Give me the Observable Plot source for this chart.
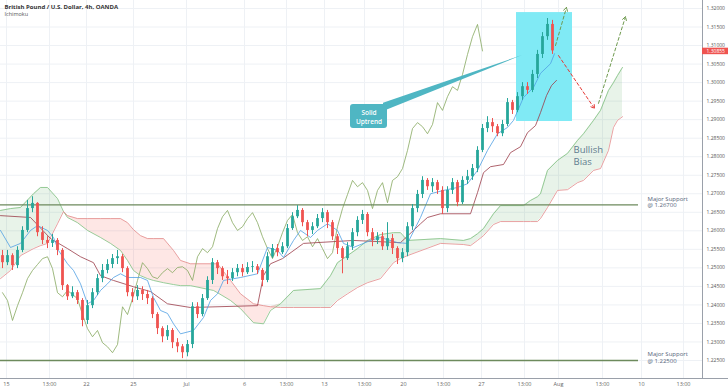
<!DOCTYPE html>
<html>
<head>
<meta charset="utf-8">
<script src="https://cdn.jsdelivr.net/npm/d3@7"></script>
<script src="https://cdn.jsdelivr.net/npm/@observablehq/plot@0.6"></script>
<style>
  html, body { margin: 0; padding: 0; background: #ffffff; }
  #chart { width: 728px; height: 391px; overflow: hidden; }
</style>
</head>
<body>
<div id="chart"></div>
<script>
// ---------- DATA (GBP/USD, OANDA; one bar = 8h) ----------
const firstOpen = 1.2533;
const candleClose = [
  1.2514,1.2533,1.2506,1.2547,1.2601,1.2660,1.2674,1.2595,1.2574,1.2566,
  1.2574,1.2547,1.2452,1.2422,1.2433,1.2412,1.2358,1.2398,1.2433,1.2471,
  1.2493,1.2509,1.2525,1.2530,1.2498,1.2433,1.2422,1.2439,1.2428,1.2417,
  1.2374,1.2336,1.2314,1.2331,1.2298,1.2287,1.2271,1.2293,1.2395,1.2374,
  1.2417,1.2466,1.2514,1.2498,1.2476,1.2471,1.2487,1.2498,1.2487,1.2501,
  1.2503,1.2493,1.2466,1.2530,1.2552,1.2541,1.2557,1.2606,1.2638,1.2655,
  1.2622,1.2601,1.2611,1.2633,1.2649,1.2622,1.2584,1.2552,1.2525,1.2557,
  1.2595,1.2628,1.2644,1.2595,1.2574,1.2584,1.2557,1.2579,1.2552,1.2525,
  1.2541,1.2611,1.2660,1.2698,1.2736,1.2719,1.2730,1.2709,1.2660,1.2709,
  1.2730,1.2676,1.2736,1.2746,1.2768,1.2817,1.2876,1.2892,1.2881,1.2862,
  1.2887,1.2946,1.2925,1.2962,1.2989,1.2979,1.3022,1.3076,1.3124,1.3157,
  1.30855];
const candleHigh = [
  1.2547,1.2547,1.2538,1.2557,1.2611,1.2682,1.2692,1.2676,1.2611,1.2584,
  1.2590,1.2579,1.2552,1.2455,1.2449,1.2439,1.2417,1.2412,1.2444,1.2482,
  1.2509,1.2522,1.2536,1.2547,1.2536,1.2503,1.2444,1.2452,1.2449,1.2439,
  1.2422,1.2379,1.2341,1.2344,1.2336,1.2309,1.2293,1.2304,1.2406,1.2406,
  1.2428,1.2476,1.2525,1.2520,1.2503,1.2493,1.2498,1.2509,1.2509,1.2514,
  1.2517,1.2509,1.2498,1.2541,1.2563,1.2563,1.2568,1.2617,1.2649,1.2668,
  1.2660,1.2628,1.2622,1.2644,1.2660,1.2655,1.2628,1.2590,1.2557,1.2568,
  1.2606,1.2638,1.2655,1.2649,1.2606,1.2595,1.2595,1.2622,1.2590,1.2557,
  1.2552,1.2622,1.2671,1.2709,1.2746,1.2741,1.2741,1.2736,1.2719,1.2719,
  1.2741,1.2736,1.2746,1.2763,1.2779,1.2827,1.2887,1.2908,1.2903,1.2887,
  1.2898,1.2957,1.2952,1.2973,1.3000,1.3000,1.3033,1.3087,1.3135,1.3173,
  1.3168];
const candleLow = [
  1.2498,1.2506,1.2493,1.2498,1.2541,1.2595,1.2649,1.2584,1.2563,1.2552,
  1.2555,1.2533,1.2439,1.2412,1.2417,1.2401,1.2341,1.2347,1.2390,1.2425,
  1.2460,1.2484,1.2498,1.2509,1.2487,1.2422,1.2406,1.2412,1.2412,1.2401,
  1.2363,1.2320,1.2298,1.2304,1.2282,1.2271,1.2255,1.2260,1.2282,1.2363,
  1.2368,1.2412,1.2455,1.2482,1.2466,1.2455,1.2463,1.2476,1.2476,1.2482,
  1.2487,1.2482,1.2449,1.2460,1.2525,1.2530,1.2536,1.2552,1.2601,1.2633,
  1.2611,1.2584,1.2590,1.2606,1.2622,1.2606,1.2574,1.2536,1.2484,1.2520,
  1.2547,1.2584,1.2617,1.2584,1.2557,1.2563,1.2547,1.2547,1.2536,1.2509,
  1.2514,1.2530,1.2601,1.2649,1.2687,1.2709,1.2703,1.2698,1.2644,1.2649,
  1.2698,1.2665,1.2671,1.2725,1.2736,1.2757,1.2811,1.2865,1.2865,1.2854,
  1.2854,1.2881,1.2914,1.2919,1.2952,1.2968,1.2973,1.3011,1.3065,1.3114,
  1.3076];

// Ichimoku lines (bar position, price)
const tenkanBar = [-0.4,1.6,3.6,5.6,7,9,10.2,11.2,13,14.2,15.6,17,18.2,19.6,21,22.2,23.6,25,27.6,29,30.2,31.6,33,34.2,35.6,38.2,40.2,41.6,43,44.2,47.6,51,53,55,56.2,58.2,59.6,61.6,63,65,67,68.2,70.2,73.6,75.6,79,81,83.6,85.6,88.2,91,93,95,97,99,101,102.2,104.2,106.2,107.6,109.6,110.4];
const tenkanVal = [1.2601,1.2555,1.2566,1.2601,1.2614,1.2601,1.2582,1.2547,1.2511,1.2493,1.2457,1.2403,1.2412,1.2439,1.2457,1.2474,1.2484,1.2474,1.2474,1.2466,1.2420,1.2385,1.2377,1.2349,1.2322,1.2331,1.2366,1.2412,1.2430,1.2466,1.2474,1.2484,1.2555,1.2547,1.2528,1.2574,1.2601,1.2582,1.2601,1.2619,1.2601,1.2566,1.2555,1.2574,1.2582,1.2568,1.2566,1.2636,1.2700,1.2709,1.2717,1.2727,1.2763,1.2817,1.2862,1.2879,1.2898,1.2960,1.2987,1.3025,1.3051,1.3078];
const kijunBar = [-0.4,5.6,9.6,13,15.6,18.2,19.6,22.2,26.2,29.6,33,37.6,51,52.2,53.6,56,60.2,70.2,79.6,83.6,85,87.6,93.6,95,96.2,97.6,100.2,101.6,103.6,105,106.6,107.6,108.8,109.8,110.8];
const kijunVal = [1.2641,1.2636,1.2579,1.2552,1.2530,1.2514,1.2479,1.2466,1.2449,1.2436,1.2403,1.2393,1.2398,1.2479,1.2511,1.2525,1.2566,1.2574,1.2568,1.2619,1.2636,1.2646,1.2646,1.2703,1.2757,1.2773,1.2779,1.2811,1.2827,1.2865,1.2884,1.2919,1.2965,1.2992,1.3006];
const cloudBar = [-0.4,1.6,3.6,6.2,7.6,9,11,12.2,13,15,17,19.6,21.6,23.6,25,26.2,27.6,29,30.2,32.2,34.2,35.6,37.6,42.2,43,45.6,47.6,50.2,52.2,53.6,55.6,58.2,63.6,65.6,67,69,71,73,75.6,78.2,79.6,81,87.6,92.2,93.6,95,96.2,98.2,99.6,104.2,105.6,107,107.6,109,111,113,115,116.2,118.2,119.6,121.2,122.2,123,124];
const senkouA = [1.2655,1.2660,1.2663,1.2700,1.2717,1.2717,1.2687,1.2652,1.2636,1.2622,1.2601,1.2582,1.2566,1.2547,1.2520,1.2493,1.2479,1.2471,1.2466,1.2460,1.2455,1.2452,1.2452,1.2439,1.2433,1.2412,1.2390,1.2352,1.2349,1.2385,1.2403,1.2439,1.2444,1.2479,1.2514,1.2533,1.2552,1.2574,1.2590,1.2595,1.2595,1.2574,1.2579,1.2574,1.2579,1.2592,1.2606,1.2646,1.2668,1.2668,1.2682,1.2692,1.2700,1.2763,1.2790,1.2809,1.2844,1.2862,1.2898,1.2925,1.2979,1.3000,1.3019,1.3041];
const senkouB = [1.2471,1.2493,1.2533,1.2552,1.2560,1.2566,1.2619,1.2652,1.2641,1.2633,1.2633,1.2633,1.2633,1.2633,1.2622,1.2603,1.2587,1.2579,1.2579,1.2579,1.2547,1.2520,1.2511,1.2511,1.2511,1.2466,1.2430,1.2403,1.2398,1.2395,1.2393,1.2393,1.2393,1.2393,1.2412,1.2430,1.2447,1.2460,1.2471,1.2514,1.2525,1.2533,1.2566,1.2563,1.2560,1.2574,1.2587,1.2617,1.2625,1.2625,1.2625,1.2625,1.2633,1.2663,1.2709,1.2711,1.2730,1.2736,1.2763,1.2768,1.2817,1.2879,1.2898,1.2908];
const chikouShift = 14; // lagging span: closes displaced 26 four-hour candles back

// Levels and annotations
const supportLevels = [1.267, 1.225];
const supportEndBar = 127.2;
const priceTicks = [1.225,1.23,1.235,1.24,1.245,1.25,1.255,1.26,1.265,1.27,1.275,1.28,1.285,1.29,1.295,1.30,1.305,1.31,1.315,1.32];
const xTickBars = [0.8,9.4,16.8,26.2,36.8,48.4,56.8,64.4,72.4,80.2,88.2,95.8,104.4,111.2,120,127.8,136.2];
const xTickLabels = ["15","13:00","22","25","Jul","6","13:00","13","13:00","20","13:00","27","13:00","Aug","13:00","10","13:00"];
const boxBars = [102.8, 114], boxPrices = [1.2895, 1.3189];
const calloutBars = [69.6, 77], calloutPrices = [1.2876, 1.2941];
const calloutLines = ["Solid", "Uptrend"], calloutLinePrices = [1.2918, 1.2895];
const wedgeBars = [76.2, 104], wedgeLow = [1.2922, 1.3073], wedgeHigh = [1.2944, 1.3073];
const greenArrows = [{x1: 110.6, y1: 1.3100, x2: 112.8, y2: 1.3203}, {x1: 119.2, y1: 1.2944, x2: 124.6, y2: 1.3178}];
const redArrows = [{x1: 111.2, y1: 1.3073, x2: 118.4, y2: 1.2930}];
const biasLines = ["Bullish", "Bias"], biasBar = 114.2, biasPrices = [1.2817, 1.2785];
const lastPrice = candleClose[candleClose.length - 1];

// ---------- build tables ----------
const candles = candleClose.map((c, i) => ({bar: i, open: i ? candleClose[i - 1] : firstOpen, close: c, high: candleHigh[i], low: candleLow[i]}));
const tenkan = tenkanBar.map((b, i) => ({bar: b, v: tenkanVal[i]}));
const kijun = kijunBar.map((b, i) => ({bar: b, v: kijunVal[i]}));
const cloud = cloudBar.map((b, i) => ({bar: b, spanA: senkouA[i], spanB: senkouB[i], top: Math.max(senkouA[i], senkouB[i])}));
const chikou = candleClose.map((c, i) => ({bar: i - chikouShift, v: c})).filter(d => d.bar >= 0);
const wedge = wedgeBars.map((b, i) => ({bar: b, lo: wedgeLow[i], hi: wedgeHigh[i]}));

const UP = "#26a69a", DOWN = "#ef5350";
const yDomain = [1.22014, 1.32216];
const xDomain = [-0.4, 140];
const font = "'Open Sans', 'Noto Sans', sans-serif";

const chart = Plot.plot({
  width: 728, height: 391,
  marginLeft: 0, marginRight: 26, marginTop: 0, marginBottom: 13,
  x: {domain: xDomain, axis: null},
  y: {domain: yDomain, axis: null},
  color: {type: "identity"},
  style: {fontFamily: font, background: "#ffffff", overflow: "visible"},
  marks: [
    // grid
    Plot.ruleY(priceTicks, {stroke: "#eef1f5", strokeWidth: 1}),
    Plot.ruleX(xTickBars, {stroke: "#eef1f5", strokeWidth: 1}),
    // cloud
    Plot.areaY(cloud, {x: "bar", y1: "spanB", y2: "top", fill: "#43a047", fillOpacity: 0.12}),
    Plot.areaY(cloud, {x: "bar", y1: "spanA", y2: "top", fill: "#f44336", fillOpacity: 0.13}),
    Plot.line(cloud, {x: "bar", y: "spanA", stroke: "#7fbf7f", strokeWidth: 0.8}),
    Plot.line(cloud, {x: "bar", y: "spanB", stroke: "#e28a8a", strokeWidth: 0.8}),
    // cyan highlight box
    Plot.rect([0], {x1: () => boxBars[0], x2: () => boxBars[1], y1: () => boxPrices[0], y2: () => boxPrices[1], fill: "#80eaf5"}),
    // other ichimoku lines
    Plot.line(chikou, {x: "bar", y: "v", stroke: "#86a860", strokeWidth: 0.8}),
    Plot.line(kijun, {x: "bar", y: "v", stroke: "#9b3b48", strokeWidth: 0.8}),
    Plot.line(tenkan, {x: "bar", y: "v", stroke: "#4f9fe3", strokeWidth: 0.8}),
    // support levels
    Plot.ruleY(supportLevels, {x1: xDomain[0], x2: supportEndBar, stroke: "#6d8a5c", strokeWidth: 1.4}),
    // candles
    Plot.ruleX(candles, {x: "bar", y1: "low", y2: "high", stroke: d => d.close >= d.open ? UP : DOWN, strokeWidth: 1}),
    Plot.ruleX(candles, {x: "bar", y1: "open", y2: "close", stroke: d => d.close >= d.open ? UP : DOWN, strokeWidth: 2.8}),
    // callout
    Plot.areaY(wedge, {x: "bar", y1: "lo", y2: "hi", fill: "#4fb6c3"}),
    Plot.rect([0], {x1: () => calloutBars[0], x2: () => calloutBars[1], y1: () => calloutPrices[0], y2: () => calloutPrices[1], fill: "#4fb6c3", rx: 3}),
    Plot.text(calloutLines, {x: (calloutBars[0] + calloutBars[1]) / 2, y: (d, i) => calloutLinePrices[i], text: d => d, fill: "#ffffff", fontSize: 6.5, fontWeight: 600}),
    // projection arrows
    Plot.arrow(greenArrows, {x1: "x1", y1: "y1", x2: "x2", y2: "y2", stroke: "#6f9a4f", strokeWidth: 1, strokeDasharray: "3,2.5", headLength: 6}),
    Plot.arrow(redArrows, {x1: "x1", y1: "y1", x2: "x2", y2: "y2", stroke: "#e53935", strokeWidth: 1, strokeDasharray: "3,2.5", headLength: 6}),
    // texts
    Plot.text(biasLines, {x: biasBar, y: (d, i) => biasPrices[i], text: d => d, textAnchor: "start", fill: "#5e7b8e", fontSize: 9.5, fontWeight: 500}),
    Plot.text(supportLevels, {x: supportEndBar + 1.8, y: d => d, text: d => `Major Support\n@ ${d.toFixed(5)}`, textAnchor: "start", lineHeight: 1.1, dy: -3, fill: "#55647a", fontSize: 6}),
    // frame / axes
    Plot.ruleX([xDomain[1]], {stroke: "#9aa0aa", strokeWidth: 1}),
    Plot.ruleY([yDomain[0]], {x1: xDomain[0], x2: xDomain[1] + 5.2, stroke: "#9aa0aa", strokeWidth: 1}),
    Plot.text(priceTicks, {y: d => d, text: d => d.toFixed(5), frameAnchor: "right", dx: 4, textAnchor: "start", fill: "#555", fontSize: 5}),
    Plot.text(xTickBars, {x: d => d, text: (d, i) => xTickLabels[i], frameAnchor: "bottom", dy: 7, fill: "#666", fontSize: 5.5}),
    Plot.ruleY([lastPrice], {x1: xDomain[1], x2: xDomain[1] + 5.2, stroke: "#ef5350", strokeWidth: 6.5}),
    Plot.text([lastPrice], {y: d => d, text: d => d.toFixed(5), frameAnchor: "right", dx: 4, dy: 0.5, textAnchor: "start", fill: "#ffffff", fontSize: 5}),
    // header
    Plot.text(["British Pound / U.S. Dollar, 4h, OANDA"], {frameAnchor: "top-left", dx: 4, dy: 4, text: d => d, fontWeight: 700, fontSize: 6, fill: "#333"}),
    Plot.text(["Ichimoku"], {frameAnchor: "top-left", dx: 4, dy: 12, text: d => d, fontSize: 5.5, fill: "#555"})
  ]
});
document.getElementById("chart").appendChild(chart);
</script>
</body>
</html>
